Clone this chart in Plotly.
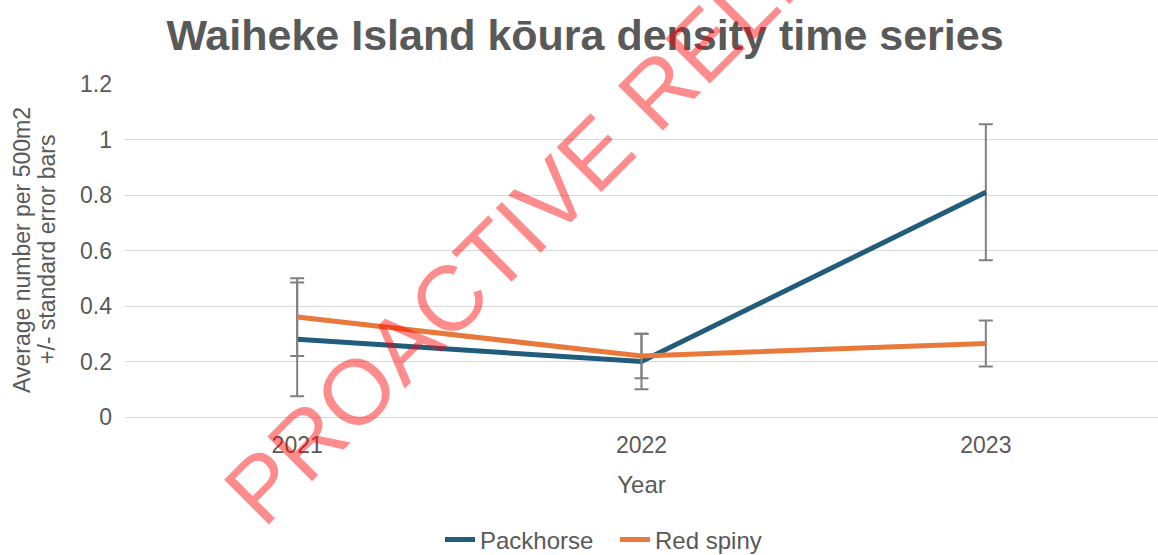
import plotly.graph_objects as go

# Survey years and mean kōura counts per 500 m² with standard errors
years = ["2021", "2022", "2023"]
packhorse_mean = [0.28, 0.20, 0.81]
packhorse_se = [0.205, 0.10, 0.245]
red_spiny_mean = [0.36, 0.22, 0.265]
red_spiny_se = [0.14, 0.08, 0.083]
y_ticks = [0, 0.2, 0.4, 0.6, 0.8, 1.0, 1.2]
y_tick_labels = ["0", "0.2", "0.4", "0.6", "0.8", "1", "1.2"]

FONT = "Arial, Liberation Sans, sans-serif"
TEXT_GREY = "#595959"

W, H = 1158, 555
L, R, T, B = 125, 0, 84, 138
plot_w = W - L - R
plot_h = H - T - B


def px_to_paper(px, py):
    return (px - L) / plot_w, (H - B - py) / plot_h


fig = go.Figure()

fig.add_trace(go.Scatter(
    x=years, y=packhorse_mean, name="Packhorse", mode="lines",
    line=dict(color="#215C7C", width=5),
    error_y=dict(type="data", array=packhorse_se, visible=True,
                 color="#808080", thickness=2, width=7),
))
fig.add_trace(go.Scatter(
    x=years, y=red_spiny_mean, name="Red spiny", mode="lines",
    line=dict(color="#E8793A", width=5),
    error_y=dict(type="data", array=red_spiny_se, visible=True,
                 color="#808080", thickness=2, width=7),
))

# Two-line y-axis caption
yt1 = px_to_paper(22, 250)
yt2 = px_to_paper(47, 250)
annotations = [
    dict(text="Average number per 500m2", x=yt1[0], y=yt1[1],
         xref="paper", yref="paper", showarrow=False, textangle=-90,
         xanchor="center", yanchor="middle",
         font=dict(family=FONT, size=23, color=TEXT_GREY)),
    dict(text="+/- standard error bars", x=yt2[0], y=yt2[1],
         xref="paper", yref="paper", showarrow=False, textangle=-90,
         xanchor="center", yanchor="middle",
         font=dict(family=FONT, size=23, color=TEXT_GREY)),
]

# Diagonal release stamp across the chart
wm = px_to_paper(588, 160)
annotations.append(dict(
    text="PROACTIVE RELEASE", x=wm[0], y=wm[1], xref="paper", yref="paper",
    showarrow=False, textangle=-45, xanchor="center", yanchor="middle",
    font=dict(family=FONT, size=92, color="rgba(255,0,0,0.45)"),
))

leg = px_to_paper(615, 540)

fig.update_layout(
    width=W, height=H,
    margin=dict(l=L, r=R, t=T, b=B, autoexpand=False),
    paper_bgcolor="white", plot_bgcolor="white",
    title=dict(text="<b>Waiheke Island kōura density time series</b>",
               x=585 / W, xref="container", xanchor="center",
               y=1 - 35 / H, yref="container", yanchor="middle",
               font=dict(family=FONT, size=43, color=TEXT_GREY)),
    xaxis=dict(
        range=[-0.5, 2.5], showgrid=False, zeroline=False,
        showline=True, linecolor="#D9D9D9", linewidth=1,
        ticks="", ticklabelstandoff=7,
        tickfont=dict(family=FONT, size=23, color=TEXT_GREY),
        title=dict(text="Year", standoff=19,
                   font=dict(family=FONT, size=24, color=TEXT_GREY)),
    ),
    yaxis=dict(
        range=[0, 1.2], tickvals=y_ticks, ticktext=y_tick_labels,
        showgrid=True, gridcolor="#D9D9D9", gridwidth=1,
        zeroline=False, showline=False, ticks="", ticklabelstandoff=12,
        tickfont=dict(family=FONT, size=23, color=TEXT_GREY),
    ),
    legend=dict(orientation="h", x=leg[0], y=leg[1],
                xanchor="center", yanchor="middle",
                font=dict(family=FONT, size=24, color=TEXT_GREY),
                itemwidth=30, entrywidth=130, entrywidthmode="pixels",
                tracegroupgap=0),
    annotations=annotations,
    showlegend=True,
)

fig.write_html("out.html")
